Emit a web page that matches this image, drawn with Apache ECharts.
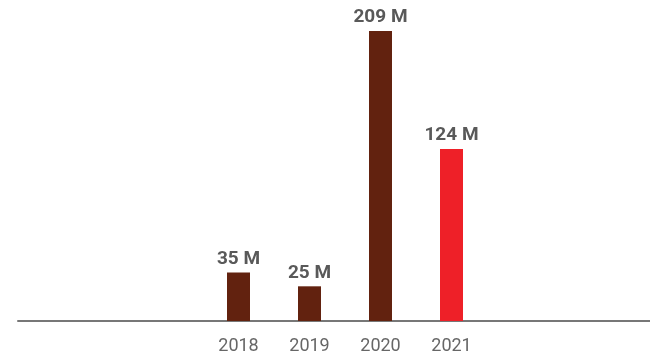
<!DOCTYPE html>
<html><head><meta charset="utf-8">
<script src="https://cdn.jsdelivr.net/npm/echarts@6/dist/echarts.min.js"></script>
<style>html,body{margin:0;padding:0;background:#fff}#c{width:650px;height:360px}</style>
</head><body><div id="c"></div>
<script>
const categories = ['2018', '2019', '2020', '2021'];
const values = [35, 25, 209, 124];
const valueLabels = ['35 M', '25 M', '209 M', '124 M'];
const barColors = ['#62220F', '#62220F', '#62220F', '#EE2028'];

const chart = echarts.init(document.getElementById('c'), null, {renderer: 'canvas'});
chart.setOption({
  animation: false,
  grid: [
    {left: 203, width: 284, top: 31, bottom: 39},
    {left: 18, right: 0, top: 31, bottom: 39}
  ],
  xAxis: [
    {type: 'category', gridIndex: 0, data: categories,
     axisLine: {show: false}, axisTick: {show: false},
     axisLabel: {color: '#666', fontFamily: 'Roboto', fontWeight: 'normal', fontSize: 18, margin: 16}},
    {type: 'category', gridIndex: 1, data: [''],
     axisLine: {show: true, lineStyle: {color: '#777', width: 2}},
     axisTick: {show: false}, axisLabel: {show: false}}
  ],
  yAxis: [
    {type: 'value', gridIndex: 0, min: 0, max: 209, show: false, splitLine: {show: false}},
    {type: 'value', gridIndex: 1, min: 0, max: 209, show: false, splitLine: {show: false}}
  ],
  series: [{
    type: 'bar', xAxisIndex: 0, yAxisIndex: 0,
    barWidth: 23,
    data: values.map((v, i) => ({value: v, itemStyle: {color: barColors[i]}})),
    label: {show: true, position: 'top', distance: 4,
      formatter: p => valueLabels[p.dataIndex],
      color: '#595959', fontFamily: 'Roboto', fontWeight: 'bold', fontSize: 19}
  }]
});
</script></body></html>
